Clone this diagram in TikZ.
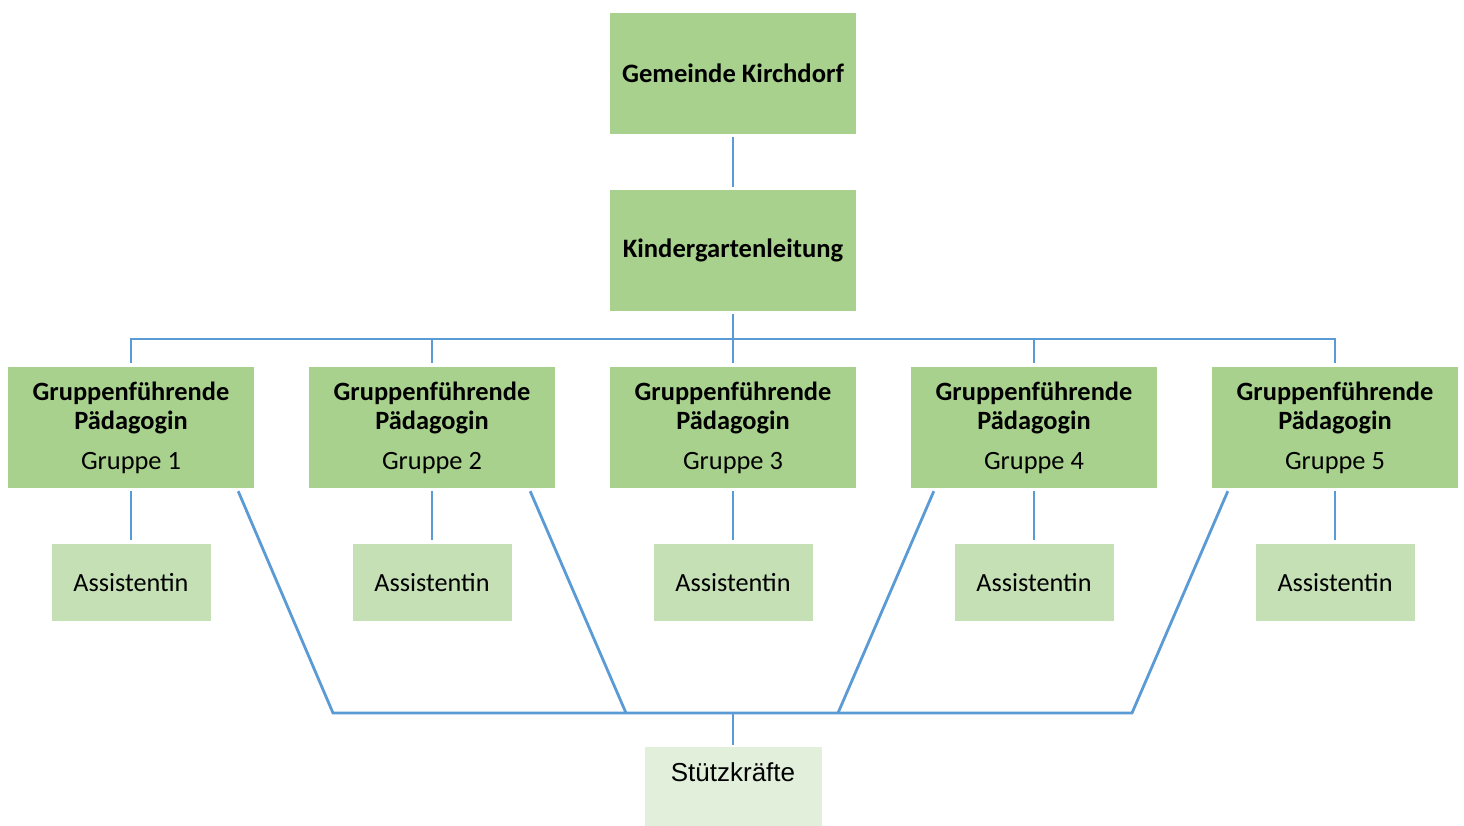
\documentclass[tikz,border=0pt]{standalone}
\usepackage{fontspec}
\setmainfont{Carlito}
\newfontfamily\arialfont{Liberation Sans}
\definecolor{dkgreen}{HTML}{A9D18E}
\definecolor{ltgreen}{HTML}{C5E0B4}
\definecolor{pagreen}{HTML}{E2EFDA}
\definecolor{linkblue}{HTML}{5B9BD5}
\begin{document}
\begin{tikzpicture}[x=1pt,y=-1pt,
  topbox/.style={fill=dkgreen,draw=none,minimum width=246pt,minimum height=121pt,inner sep=0pt,
    font=\fontsize{26.6}{29}\selectfont\bfseries,align=center},
  grpbox/.style={fill=dkgreen,draw=none,minimum width=246pt,minimum height=121pt,inner sep=0pt,
    font=\fontsize{26.4}{29}\selectfont,align=center},
  asbox/.style={fill=ltgreen,draw=none,minimum width=159pt,minimum height=77pt,inner sep=0pt,
    font=\fontsize{26.2}{29}\selectfont},
  stbox/.style={fill=pagreen,draw=none,minimum width=177pt,inner sep=0pt,
    text height=34pt,text depth=45pt,font=\arialfont\fontsize{26}{29}\selectfont},
  link/.style={draw=linkblue,line width=2.8pt}]
\useasboundingbox (0,0) rectangle (1464,826);
\fill[white] (0,0) rectangle (1464,826);

\node[topbox] (gk) at (733,73.5) {Gemeinde Kirchdorf};
\node[topbox] (kl) at (733,250.5) {Kindergartenleitung};

\foreach \i/\x in {1/131,2/432,3/733,4/1034,5/1335}{
  \node[grpbox] (g\i) at (\x,427.5) {\textbf{Gruppenführende}\\\textbf{Pädagogin}\\[11pt]Gruppe \i};
  \node[asbox] (a\i) at (\x,582.5) {Assistentin};
}
\node[stbox,anchor=north] (st) at (733,747) {Stützkräfte};

\coordinate (busT) at (733,339);
\coordinate (busB) at (733,713);

% top
\draw[link,shorten <=3pt,shorten >=3pt] (gk.south) -- (kl.north);
\draw[link,shorten <=3pt] (kl.south) -- (busT);
\draw[link,shorten <=4pt,shorten >=4pt] (g1.north) -- (g1.north |- busT) -- (g5.north |- busT) -- (g5.north);
\foreach \i in {2,3,4}{
  \draw[link,shorten >=4pt] (g\i.north |- busT) -- (g\i.north);
}
% assistants
\foreach \i in {1,...,5}{
  \draw[link,shorten <=3pt,shorten >=4pt] (g\i.south) -- (a\i.north);
}
% support staff
\coordinate (d1) at ([xshift=-16pt,yshift=-3pt]g1.south east);
\coordinate (d2) at ([xshift=-25pt,yshift=-3pt]g2.south east);
\coordinate (d4) at ([xshift=23pt,yshift=-3pt]g4.south west);
\coordinate (d5) at ([xshift=16pt,yshift=-3pt]g5.south west);
\coordinate (e1) at (333,713);
\coordinate (e2) at (626,713);
\coordinate (e4) at (838,713);
\coordinate (e5) at (1132,713);
\draw[link,line join=miter] (d1) -- (e1) -- (e5) -- (d5);
\draw[link] (d2) -- (e2);
\draw[link] (d4) -- (e4);
\draw[link,shorten >=2pt] (busB) -- (st.north);
\end{tikzpicture}
\end{document}
